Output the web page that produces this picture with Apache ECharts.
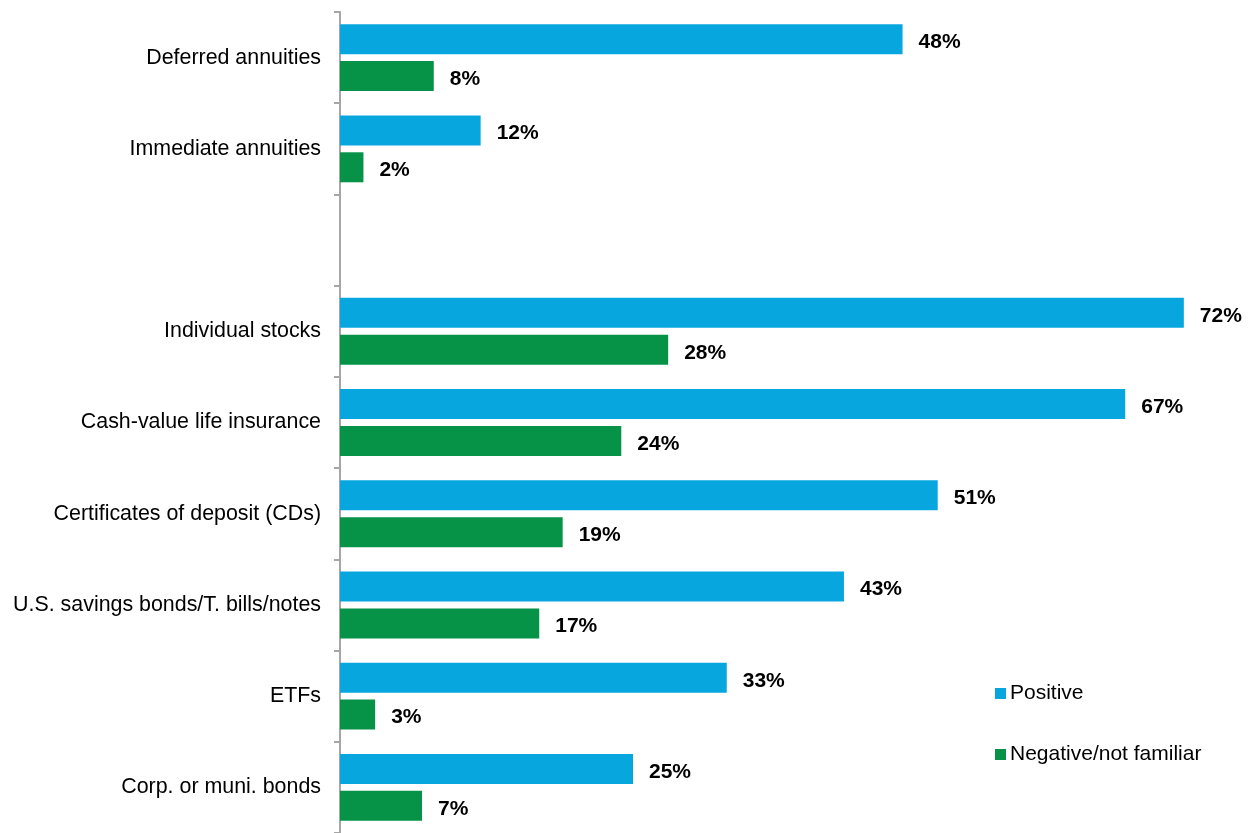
<!DOCTYPE html>
<html>
<head>
<meta charset="utf-8">
<script src="https://cdn.jsdelivr.net/npm/echarts@6/dist/echarts.min.js"></script>
<style>
  html, body { margin: 0; padding: 0; background: #fff; }
  #chart { width: 1250px; height: 833px; }
</style>
</head>
<body>
<div id="chart"></div>
<script>
// categories top to bottom (blank one is a spacer row)
var categories = [
    "Deferred annuities",
    "Immediate annuities",
    "",
    "Individual stocks",
    "Cash-value life insurance",
    "Certificates of deposit (CDs)",
    "U.S. savings bonds/T. bills/notes",
    "ETFs",
    "Corp. or muni. bonds"
];
var positive = [48, 12, null, 72, 67, 51, 43, 33, 25];
var negative = [8, 2, null, 28, 24, 19, 17, 3, 7];

var myChart = echarts.init(document.getElementById("chart"));

var labelStyle = {
    show: true,
    position: "right",
    distance: 16,
    offset: [0, 3],
    formatter: "{c}%",
    color: "#000",
    fontFamily: "Liberation Sans, Arial, sans-serif",
    fontWeight: "bold",
    fontSize: 21
};

var option = {
    animation: false,
    grid: {
        left: 340,
        right: 31,
        top: 12,
        bottom: -3
    },
    legend: {
        orient: "vertical",
        left: 990,
        top: 678,
        itemWidth: 11,
        itemHeight: 11,
        itemGap: 40,
        icon: "rect",
        textStyle: {
            color: "#000",
            fontFamily: "Liberation Sans, Arial, sans-serif",
            fontSize: 21,
            padding: [0, 0, 0, -1]
        },
        data: ["Positive", "Negative/not familiar"]
    },
    xAxis: {
        type: "value",
        min: 0,
        max: 75,
        show: false
    },
    yAxis: {
        type: "category",
        inverse: true,
        data: categories,
        axisLine: { lineStyle: { color: "#a6a6a6", width: 2 } },
        axisTick: { show: true, length: 6, lineStyle: { color: "#a6a6a6", width: 2 } },
        axisLabel: {
            margin: 19,
            color: "#000",
            fontFamily: "Liberation Sans, Arial, sans-serif",
            fontSize: 21.4,
            padding: [6, 0, 0, 0]
        }
    },
    series: [
        {
            name: "Positive",
            type: "bar",
            data: positive,
            barWidth: 30,
            barGap: "23%",
            itemStyle: { color: "#08a6df" },
            label: labelStyle
        },
        {
            name: "Negative/not familiar",
            type: "bar",
            data: negative,
            barWidth: 30,
            itemStyle: { color: "#069247" },
            label: labelStyle
        }
    ]
};

myChart.setOption(option);
</script>
</body>
</html>
